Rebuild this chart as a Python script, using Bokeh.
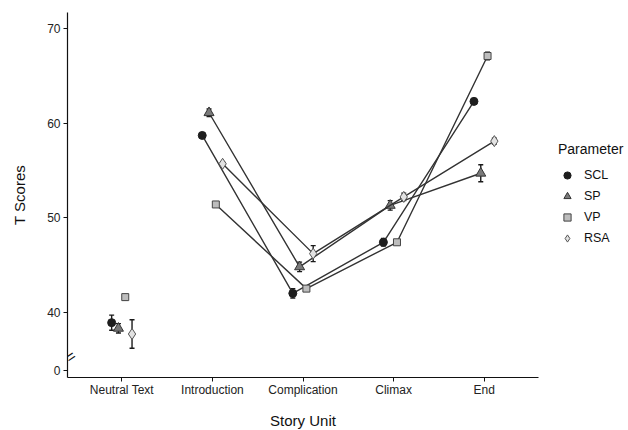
from bokeh.plotting import figure
from bokeh.models import (ColumnDataSource, Range1d, FixedTicker, Whisker, TeeHead,
                          Legend, LegendItem, Label)
from bokeh.embed import file_html
from bokeh.resources import INLINE

# ---- data ----
categories = ["Neutral Text", "Introduction", "Complication", "Climax", "End"]
series_names = ["SCL", "SP", "VP", "RSA"]

scl_mean = [38.9, 58.7, 42.0, 47.4, 62.3]
scl_err = [0.8, 0.3, 0.5, 0.4, 0.3]
sp_mean = [38.3, 61.1, 44.8, 51.3, 54.7]
sp_err = [0.5, 0.4, 0.5, 0.5, 0.9]
vp_mean = [41.6, 51.4, 42.5, 47.4, 67.1]
vp_err = [0.25, 0.2, 0.2, 0.2, 0.4]
rsa_mean = [37.7, 55.7, 46.2, 52.2, 58.1]
rsa_err = [1.5, 0.2, 0.85, 0.4, 0.3]

y_tick_values = [33.8, 40, 50, 60, 70]
y_tick_labels = ["0", "40", "50", "60", "70"]
axis_break_value = 35.3

# ---- styles ----
FONT = "Liberation Sans"
styles = {
    "SCL": dict(marker="circle", size=8, fill_color="#1e1e1e", line_color="#1e1e1e"),
    "SP": dict(marker="triangle", size=10, fill_color="#7a7a7a", line_color="#333333"),
    "VP": dict(marker="square", size=7, fill_color="#bdbdbd", line_color="#444444"),
    "RSA": dict(marker="diamond", size=11, fill_color="#e2e2e2", line_color="#555555"),
}
means = {"SCL": scl_mean, "SP": sp_mean, "VP": vp_mean, "RSA": rsa_mean}
errs = {"SCL": scl_err, "SP": sp_err, "VP": vp_err, "RSA": rsa_err}

p = figure(frame_width=471, frame_height=365, min_border_left=67, min_border_top=12,
           min_border_bottom=53, min_border_right=90,
           x_range=Range1d(0.4, 5.6), y_range=Range1d(33.1, 71.7),
           output_backend="svg", toolbar_location=None, tools="")
p.outline_line_color = None
p.xgrid.visible = False
p.ygrid.visible = False
p.background_fill_color = "white"
p.border_fill_color = "white"

# axes
p.xaxis.ticker = FixedTicker(ticks=list(range(1, len(categories) + 1)))
p.xaxis.major_label_overrides = {i + 1: c for i, c in enumerate(categories)}
p.yaxis.ticker = FixedTicker(ticks=y_tick_values)
p.yaxis.major_label_overrides = {v: l for v, l in zip(y_tick_values, y_tick_labels)}
for ax in (p.xaxis, p.yaxis):
    ax.axis_line_color = "#111111"
    ax.axis_line_width = 1.2
    ax.major_tick_line_color = "#111111"
    ax.major_tick_out = 4
    ax.major_tick_in = 0
    ax.minor_tick_line_color = None
    ax.major_label_text_font = FONT
    ax.major_label_text_font_size = "12px"
    ax.major_label_text_color = "#222222"
    ax.axis_label_text_font = FONT
    ax.axis_label_text_font_size = "15px"
    ax.axis_label_text_font_style = "normal"
    ax.axis_label_text_color = "#111111"
p.xaxis.major_label_standoff = 1
p.yaxis.major_label_standoff = 3
p.xaxis.axis_label = "Story Unit"
p.yaxis.axis_label = "T Scores"
p.xaxis.axis_label_standoff = 12
p.yaxis.axis_label_standoff = 16

# dodge positions
n = len(series_names)
dodge_step = 0.075
renderers = {}
for i, name in enumerate(series_names):
    off = (i - (n - 1) / 2) * dodge_step
    xs = [k + 1 + off for k in range(len(categories))]
    ys = means[name]
    es = errs[name]
    st = styles[name]
    src = ColumnDataSource(dict(x=xs, y=ys,
                                upper=[a + b for a, b in zip(ys, es)],
                                lower=[a - b for a, b in zip(ys, es)]))
    # connecting line (story units only, not the neutral text)
    p.line(xs[1:], ys[1:], line_color="#333333", line_width=1.4)
    w = Whisker(source=src, base="x", upper="upper", lower="lower", dimension="height",
                line_color="#1a1a1a", line_width=1.4, level="underlay",
                upper_head=TeeHead(size=5, line_color="#1a1a1a", line_width=1.4),
                lower_head=TeeHead(size=5, line_color="#1a1a1a", line_width=1.4))
    p.add_layout(w)
    r = p.scatter("x", "y", source=src, marker=st["marker"], size=st["size"],
                  fill_color=st["fill_color"], line_color=st["line_color"],
                  line_width=1.0)
    renderers[name] = r

# axis break mark
p.add_layout(Label(x=0.4, y=axis_break_value, text="=", text_font=FONT,
                   text_font_size="16px", text_align="center", text_baseline="middle",
                   x_offset=3, angle=0.6, text_color="#111111", level="overlay"))

legend = Legend(items=[LegendItem(label=nm, renderers=[renderers[nm]]) for nm in series_names],
                location=(20, 130), title="Parameter")
legend.title_text_font = FONT
legend.title_text_font_size = "14px"
legend.title_text_font_style = "normal"
legend.title_text_color = "#111111"
legend.title_standoff = 9
legend.label_text_font = FONT
legend.label_text_font_size = "12.5px"
legend.label_text_color = "#111111"
legend.glyph_width = 18
legend.glyph_height = 18
legend.label_height = 18
legend.label_standoff = 8
legend.spacing = 3
legend.padding = 0
legend.margin = 0
legend.border_line_color = None
legend.background_fill_alpha = 0
p.add_layout(legend, "right")

open("out.html", "w").write(file_html(p, INLINE))
